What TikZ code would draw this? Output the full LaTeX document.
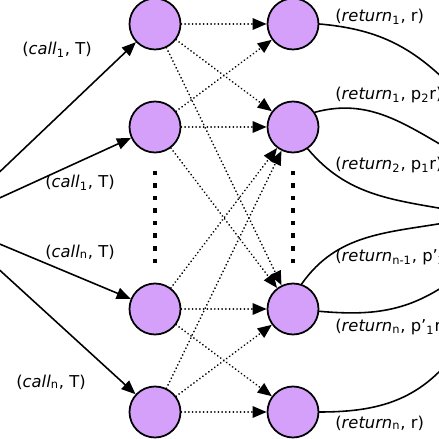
\documentclass[tikz,border=0pt]{standalone}
\usepackage{fontspec}
\setmainfont{DejaVu Sans}
\usepackage{xcolor}
\usepackage{tikz}
\usetikzlibrary{arrows.meta}
\definecolor{lilac}{RGB}{212,160,250}
\tikzset{
	ball/.style={circle,draw=black,line width=1pt,fill=lilac,minimum size=1.02cm,inner sep=0pt},
	lbl/.style={font=\fontsize{9.3}{11}\selectfont,inner sep=0pt,color=black},
	callarrow/.style={->,line width=0.9pt},
	hop/.style={->,line width=1.1pt,line cap=round,dash pattern=on 0.01pt off 2.1pt},
	retline/.style={line width=0.9pt}
}

\begin{document}
\begin{tikzpicture}[line cap=round,line join=round,>={Triangle[length=8pt,width=6.5pt]},x=1.0cm,y=1.0cm]
			\useasboundingbox (0,0) rectangle (8.78,8.78);
			\clip (0,0) rectangle (8.78,8.78);
			% call side
			\coordinate (S) at (-1.06,4.34);
			\node [ball] (C1) at (3.10,8.30) {};
			\node [ball] (C2) at (3.10,6.24) {};
			\node [ball] (C3) at (3.10,2.60) {};
			\node [ball] (C4) at (3.10,0.54) {};
			% return side
			\node [ball] (R1) at (5.86,8.30) {};
			\node [ball] (R2) at (5.86,6.24) {};
			\node [ball] (R3) at (5.86,2.60) {};
			\node [ball] (R4) at (5.86,0.54) {};
			\coordinate (E1) at (9.00,7.08);
			\coordinate (E2) at (9.00,5.78);
			\coordinate (E3) at (9.00,4.58);
			\coordinate (E4) at (9.00,4.34);
			\coordinate (E5) at (9.00,3.14);
			\coordinate (E6) at (9.00,1.58);
			\draw [callarrow] (S) -- (C1);
			\draw [callarrow] (S) -- (C2);
			\draw [callarrow] (S) -- (C3);
			\draw [callarrow] (S) -- (C4);
			\draw [hop] (C1) -- (R1);
			\draw [hop] (C1) -- (R2);
			\draw [hop] (C1) -- (R3);
			\draw [hop] (C2) -- (R1);
			\draw [hop] (C2) -- (R2);
			\draw [hop] (C2) -- (R3);
			\draw [hop] (C3) -- (R2);
			\draw [hop] (C3) -- (R3);
			\draw [hop] (C3) -- (R4);
			\draw [hop] (C4) -- (R2);
			\draw [hop] (C4) -- (R3);
			\draw [hop] (C4) -- (R4);
			\draw [retline] (R1.east) to[out=-5,in=135] (E1);
			\draw [retline] (R2.34) to[out=15,in=150] (E2);
			\draw [retline] (R2.-56) to[out=-50,in=170] (E3);
			\draw [retline] (R3.71) to[out=55,in=190] (E4);
			\draw [retline] (R3.-5) to[out=-5,in=215] (E5);
			\draw [retline] (R4.east) to[out=0,in=230] (E6);
			% dots
			\foreach \k in {0,...,7} {
				\fill (3.055,5.275-0.251*\k) rectangle ++(0.09,0.09);
				\fill (5.815,5.275-0.251*\k) rectangle ++(0.09,0.09);
			}
			% labels
			\node [lbl] (l1) at (1.14,7.78) {(\textit{call}\textsubscript{1}, T)};
			\node [lbl] (l2) at (1.60,5.12) {(\textit{call}\textsubscript{1}, T)};
			\node [lbl] (l3) at (1.60,3.74) {(\textit{call}\textsubscript{n}, T)};
			\node [lbl] (l4) at (1.02,1.14) {(\textit{call}\textsubscript{n}, T)};
			\node [lbl,anchor=west] (m1) at (6.70,8.44) {(\textit{return}\textsubscript{1}, r)};
			\node [lbl,anchor=west] (m2) at (6.70,6.88) {(\textit{return}\textsubscript{1}, p\textsubscript{2}r)};
			\node [lbl,anchor=west] (m3) at (6.70,5.48) {(\textit{return}\textsubscript{2}, p\textsubscript{1}r)};
			\node [lbl,anchor=west] (m4) at (6.70,3.64) {(\textit{return}\textsubscript{n-1}, p'\textsubscript{2}r)};
			\node [lbl,anchor=west] (m5) at (6.70,2.24) {(\textit{return}\textsubscript{n}, p'\textsubscript{1}r)};
			\node [lbl,anchor=west] (m6) at (6.70,0.32) {(\textit{return}\textsubscript{n}, r)};
		\end{tikzpicture}
\end{document}
